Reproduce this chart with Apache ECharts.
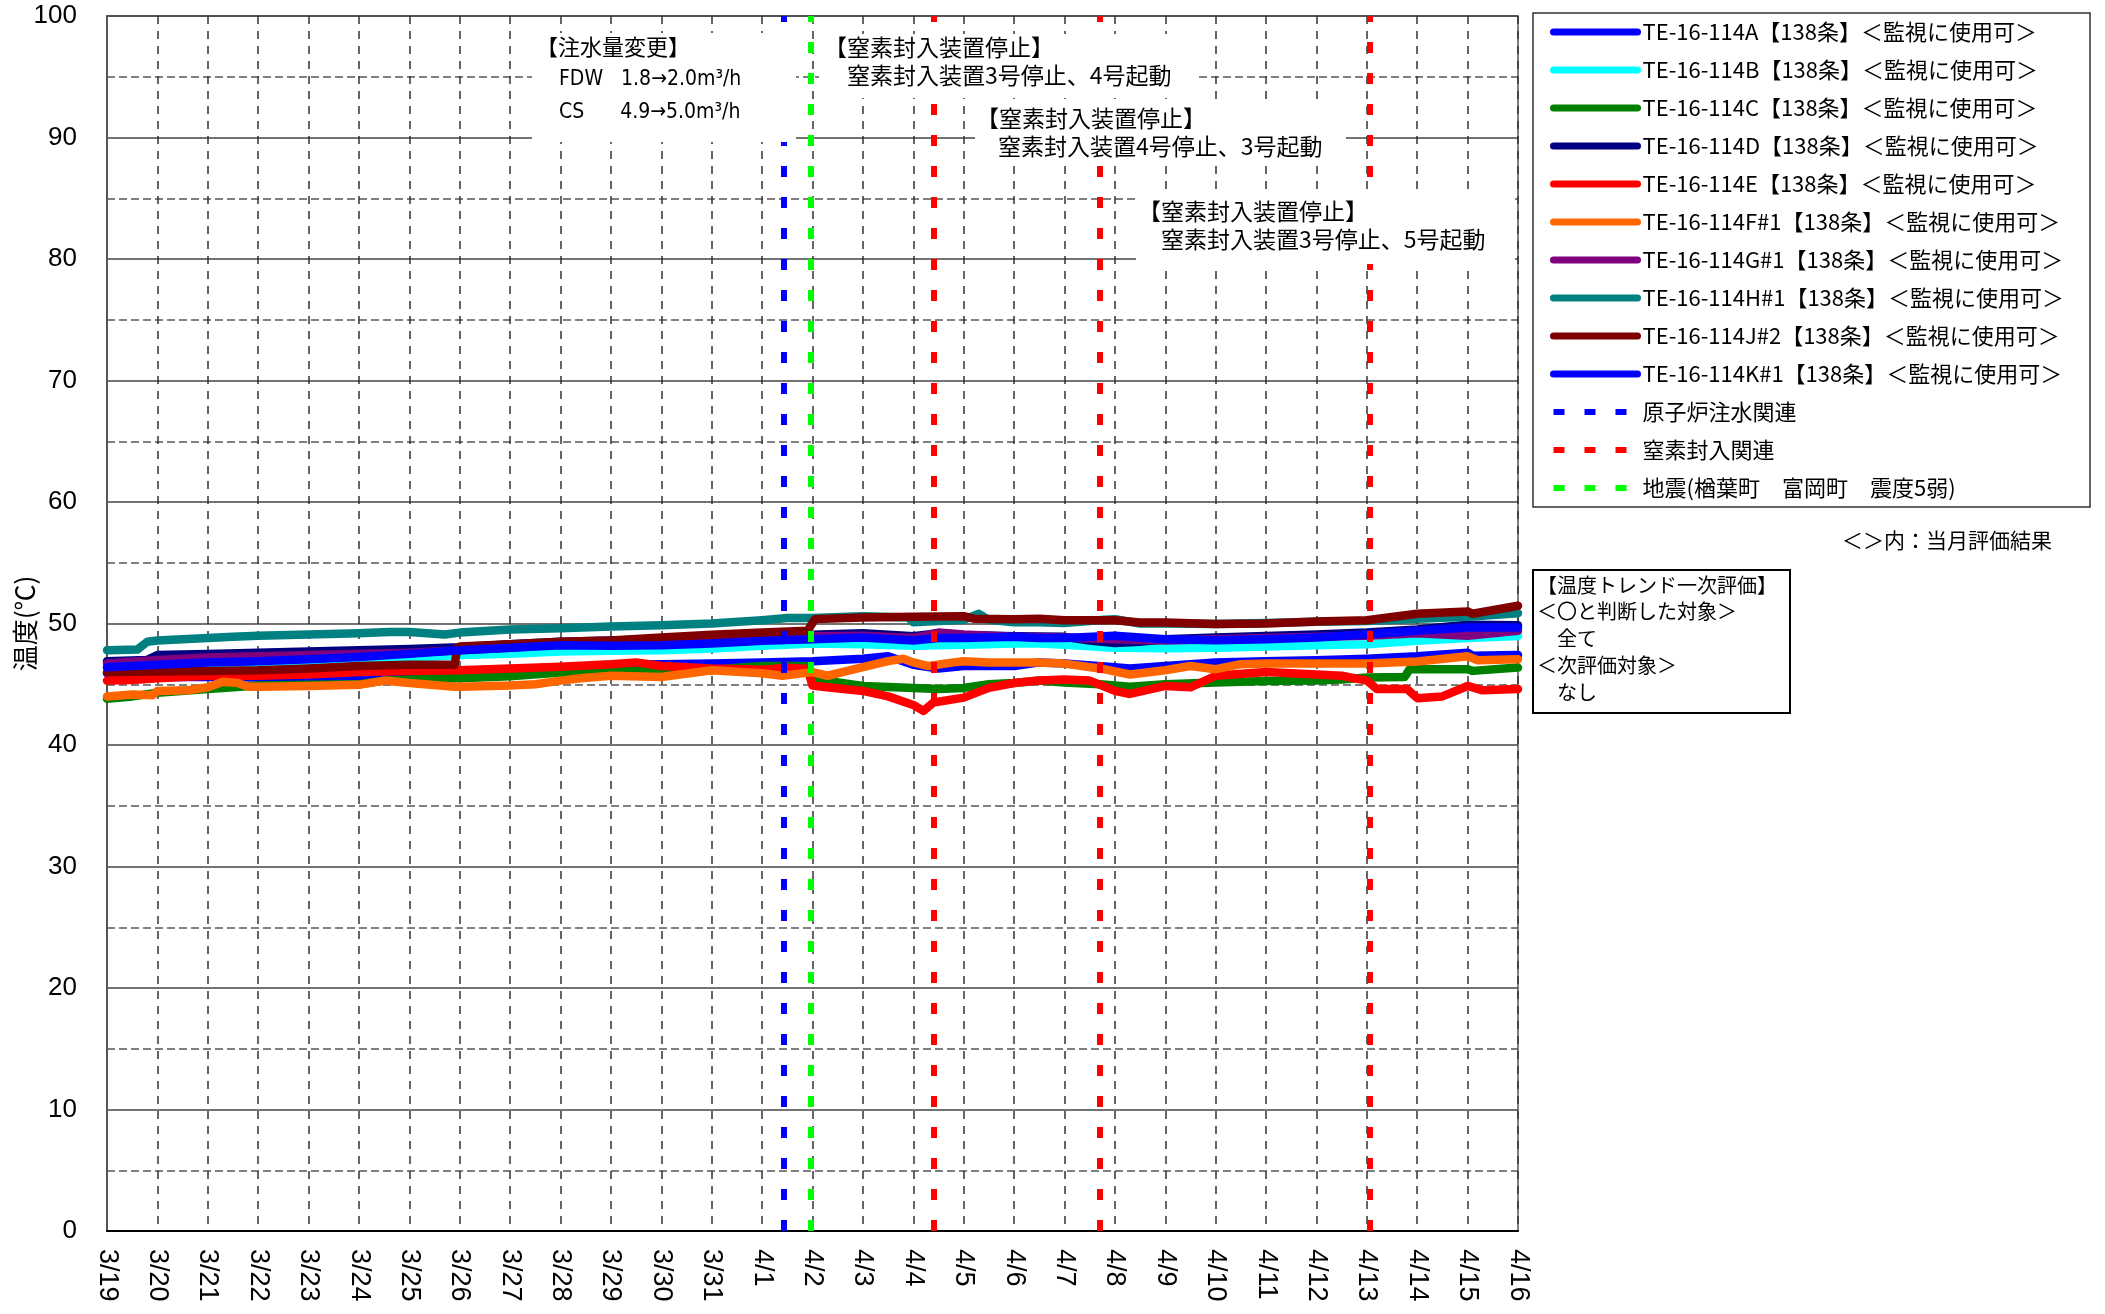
<!DOCTYPE html>
<html>
<head>
<meta charset="utf-8">
<script src="https://cdn.jsdelivr.net/npm/echarts@6/dist/echarts.min.js"></script>
<style>
html,body{margin:0;padding:0;background:#fff;}
#chart{width:2105px;height:1314px;}
</style>
</head>
<body>
<div id="chart"></div>
<script>
// x values: days elapsed since 3/19 00:00
const dayLabels = ['3/19','3/20','3/21','3/22','3/23','3/24','3/25','3/26','3/27','3/28','3/29','3/30','3/31','4/1','4/2','4/3','4/4','4/5','4/6','4/7','4/8','4/9','4/10','4/11','4/12','4/13','4/14','4/15','4/16'];

const seriesNames = [
  'TE-16-114A【138条】＜監視に使用可＞',
  'TE-16-114B【138条】＜監視に使用可＞',
  'TE-16-114C【138条】＜監視に使用可＞',
  'TE-16-114D【138条】＜監視に使用可＞',
  'TE-16-114E【138条】＜監視に使用可＞',
  'TE-16-114F#1【138条】＜監視に使用可＞',
  'TE-16-114G#1【138条】＜監視に使用可＞',
  'TE-16-114H#1【138条】＜監視に使用可＞',
  'TE-16-114J#2【138条】＜監視に使用可＞',
  'TE-16-114K#1【138条】＜監視に使用可＞'
];
const seriesColors = ['#0000FF','#00FFFF','#008000','#000080','#FF0000','#FF6600','#800080','#008080','#800000','#0000FF'];

const tempA = [[0,45.9],[1,45.6],[2,45.6],[3,45.55],[4,45.6],[5,45.65],[6,45.75],[6.5,45.8],[7,45.9],[8,46.0],[9,46.3],[10,46.6],[11,46.65],[12,46.7],[13,46.8],[14,46.9],[15,47.1],[15.5,47.3],[16,46.6],[16.5,46.3],[17,46.5],[18,46.5],[18.5,46.8],[19,46.7],[20,46.4],[20.3,46.3],[21,46.5],[22,46.8],[23,46.9],[24,46.97],[25,47.1],[26,47.3],[27,47.6],[27.1,47.35],[28,47.4]];
const tempB = [[0,46.3],[1,46.5],[2,46.7],[3,46.8],[4,46.9],[5,47.0],[6,47.15],[7,47.4],[8,47.5],[9,47.7],[10,47.75],[11,47.8],[12,47.94],[13,48.16],[14,48.35],[15,48.3],[16,48.16],[17,48.25],[18,48.35],[18.5,48.35],[19,48.25],[20,48.0],[21,47.97],[22,48.0],[23,48.1],[24,48.2],[25,48.3],[26,48.57],[27,48.8],[28,48.98]];
const tempC = [[0,43.8],[0.5,44.0],[1,44.3],[2,44.6],[2.5,44.75],[3,44.9],[4,44.95],[5,45.0],[5.5,45.3],[6,45.4],[7,45.5],[8,45.65],[9,45.96],[10,46.1],[11,46.05],[12,46.15],[12.5,46.35],[13,46.5],[13.9,46.5],[14.0,45.55],[14.3,45.27],[15,44.86],[16,44.7],[16.5,44.6],[17,44.7],[17.5,45.0],[18,45.1],[18.5,45.3],[19,45.14],[19.7,45.0],[20.3,44.8],[21,45.0],[22,45.14],[23,45.27],[24,45.3],[24.5,45.4],[25,45.55],[25.75,45.6],[25.85,46.24],[27,46.24],[27.1,46.1],[28,46.37]];
const tempD = [[0,46.9],[0.8,47.0],[1,47.4],[2,47.5],[3,47.6],[4,47.7],[5,47.8],[6,47.9],[7,48.05],[8,48.3],[9,48.5],[10,48.6],[11,48.7],[12,48.85],[13,48.95],[14,49.07],[15,49.2],[16,48.95],[16.5,49.2],[17,49.05],[18,48.95],[19,48.9],[19.5,48.6],[20,48.4],[20.5,48.5],[21,48.7],[22,48.85],[23,48.97],[24,49.1],[25,49.25],[26,49.5],[27,49.9],[28,49.85]];
const tempE = [[0,45.3],[0.5,45.35],[1,45.5],[2,45.7],[3,45.7],[4,45.8],[5,46.0],[6,46.1],[7,46.15],[8,46.3],[9,46.45],[10,46.65],[10.5,46.8],[11,46.5],[12,46.3],[13,46.2],[13.5,46.35],[13.9,46.25],[14.0,44.9],[14.2,44.8],[15,44.45],[15.5,44.0],[16,43.3],[16.2,42.8],[16.4,43.5],[17,43.9],[17.5,44.7],[18,45.1],[18.5,45.3],[19,45.4],[19.5,45.3],[20,44.45],[20.3,44.2],[21,44.86],[21.5,44.75],[22,45.7],[23,46.0],[24,45.8],[24.5,45.7],[25,45.3],[25.2,44.6],[25.8,44.6],[26,43.85],[26.5,44.0],[27,44.86],[27.3,44.5],[28,44.6]];
const tempF = [[0,44.0],[0.5,44.15],[0.9,44.1],[1,44.45],[1.6,44.5],[2,44.75],[2.3,45.2],[2.6,45.1],[2.8,44.8],[3,44.8],[4,44.85],[5,44.95],[5.5,45.3],[6,45.1],[6.9,44.8],[7,44.8],[8,44.9],[8.5,45.0],[9,45.3],[9.4,45.5],[10,45.7],[11,45.6],[12,46.15],[13,45.9],[13.4,45.7],[14,46.0],[14.3,45.7],[15,46.4],[15.5,46.9],[15.8,47.1],[16,46.8],[16.3,46.5],[16.8,46.8],[17,46.9],[17.5,46.8],[18,46.8],[18.5,46.8],[19,46.7],[19.7,46.3],[20.3,45.8],[21,46.15],[21.5,46.5],[22,46.24],[22.5,46.65],[23,46.7],[24,46.7],[25,46.7],[26,46.87],[27,47.3],[27.2,46.98],[28,47.06]];
const tempG = [[0,46.7],[1,47.0],[2,47.2],[3,47.3],[4,47.4],[5,47.5],[6,47.6],[7,47.8],[8,48.0],[9,48.3],[10,48.4],[11,48.5],[12,48.65],[13,48.8],[14,48.95],[15,49.0],[16,48.8],[16.5,49.25],[17,49.1],[18,48.9],[19,48.85],[20,48.7],[21,48.6],[22,48.7],[23,48.8],[24,48.9],[25,49.0],[26,49.2],[27,49.0],[28,49.4]];
const tempH = [[0,47.8],[0.6,47.85],[0.8,48.5],[1,48.6],[2,48.8],[2.5,48.9],[3,49.0],[4,49.1],[5,49.2],[5.6,49.3],[6,49.3],[6.7,49.1],[7,49.25],[8,49.5],[9,49.6],[10,49.75],[11,49.86],[12,50.0],[13,50.27],[13.5,50.45],[14,50.45],[15,50.6],[15.9,50.5],[16,50.1],[16.5,50.2],[17,50.3],[17.3,50.8],[17.5,50.3],[18,50.1],[18.5,50.1],[19,50.05],[19.8,50.3],[20,50.35],[20.5,50.0],[21,50.0],[22,49.95],[23,50.05],[24,50.15],[25,50.2],[26,50.4],[27,50.55],[28,50.85]];
const tempJ = [[0,46.0],[1,46.05],[2,46.1],[3,46.15],[4,46.3],[5,46.5],[6,46.6],[6.9,46.6],[6.95,48.0],[7,48.1],[8,48.3],[9,48.5],[10,48.6],[11,48.85],[12,49.07],[13,49.26],[13.9,49.4],[14.05,50.36],[15,50.5],[16,50.55],[17,50.6],[17.2,50.4],[18,50.36],[18.5,50.4],[19,50.27],[20,50.27],[20.5,50.08],[21,50.08],[22,49.95],[23,50.0],[24,50.16],[25,50.27],[26,50.8],[27,50.99],[27.1,50.8],[28,51.46]];
const tempK = [[0,46.4],[1,46.6],[2,46.8],[3,46.9],[4,47.05],[5,47.25],[6,47.5],[7,47.8],[8,48.0],[9,48.2],[10,48.16],[11,48.2],[12,48.35],[13,48.57],[14,48.7],[15,48.85],[16,48.6],[16.5,48.8],[17,48.8],[18,48.9],[18.5,48.8],[19,48.8],[20,49.0],[20.5,48.85],[21,48.7],[22,48.63],[23,48.7],[24,48.85],[25,49.1],[26,49.4],[27,49.67],[28,49.67]];
const seriesData = [tempA,tempB,tempC,tempD,tempE,tempF,tempG,tempH,tempJ,tempK];

// event markers (days since 3/19 00:00)
const eventNames = ['原子炉注水関連','窒素封入関連','地震(楢葉町　富岡町　震度5弱)'];
const eventColors = ['#0000FF','#FF0000','#00FF00'];
const waterEvents = [13.43];
const nitrogenEvents = [16.41, 19.70, 25.06];
const quakeEvents = [13.96];
const eventDays = [waterEvents, nitrogenEvents, quakeEvents];

const JP = '"Noto Sans CJK JP", sans-serif';
const LAT = '"Liberation Sans", Arial, sans-serif';

const chart = echarts.init(document.getElementById('chart'), null, {renderer:'canvas'});

const series = [];
seriesNames.forEach((n,i)=>{
  series.push({
    name:n, type:'line', data:seriesData[i], symbol:'none', showSymbol:false,
    lineStyle:{color:seriesColors[i], width:8.5, cap:'round', join:'round'},
    itemStyle:{color:seriesColors[i]},
    animation:false, silent:true, z:2
  });
});
eventNames.forEach((n,i)=>{
  series.push({
    name:n, type:'line', data:[], symbol:'none',
    lineStyle:{color:eventColors[i], width:6, type:[11,20]},
    itemStyle:{color:eventColors[i]},
    animation:false, silent:true,
    markLine:{
      symbol:'none', silent:true, animation:false,
      label:{show:false},
      lineStyle:{color:eventColors[i], width:6, type:[11,20]},
      data: eventDays[i].map(d=>({xAxis:d}))
    }
  });
});

function txt(x,y,t,size,extra){
  return Object.assign({type:'text', x:x, y:y, z:100, silent:true,
    style:{text:t, font:size+'px '+JP, fill:'#000', textVerticalAlign:'middle', textAlign:'left'}}, extra||{});
}
function box(x,y,w,h){
  return {type:'rect', z:99, silent:true, shape:{x:x,y:y,width:w,height:h}, style:{fill:'#fff', stroke:null}};
}

const graphics = [
  // annotation 1
  box(532,33,264,109),
  txt(536,47,'【注水量変更】',22),
  {type:'text', x:559, y:80, z:100, style:{text:'FDW   1.8→2.0m³/h', font:'21px "DejaVu Sans Condensed", '+LAT, fill:'#000', textVerticalAlign:'middle'}},
  {type:'text', x:559, y:113, z:100, style:{text:'CS      4.9→5.0m³/h', font:'21px "DejaVu Sans Condensed", '+LAT, fill:'#000', textVerticalAlign:'middle'}},
  // annotation 2
  box(819,34,377,64),
  txt(824,47,'【窒素封入装置停止】',23),
  txt(847,75,'窒素封入装置3号停止、4号起動',23),
  // annotation 3
  box(975,103,371,62),
  txt(976,118,'【窒素封入装置停止】',23),
  txt(998,146,'窒素封入装置4号停止、3号起動',23),
  // annotation 4
  box(1136,192,379,72),
  txt(1138,211,'【窒素封入装置停止】',23),
  txt(1161,239,'窒素封入装置3号停止、5号起動',23),
  // legend frame
  {type:'rect', z:0, silent:true, shape:{x:1533,y:13,width:557,height:494}, style:{fill:'#fff', stroke:'#333', lineWidth:1.5}},
  txt(1842,540,'＜＞内：当月評価結果',21),
  // evaluation box
  {type:'rect', z:0, silent:true, shape:{x:1533,y:570,width:257,height:143}, style:{fill:'#fff', stroke:'#000', lineWidth:2}},
  txt(1537,585,'【温度トレンド一次評価】',20),
  txt(1537,611,'＜〇と判断した対象＞',20),
  txt(1537,638,'　全て',20),
  txt(1537,665,'＜次評価対象＞',20),
  txt(1537,692,'　なし',20)
];

const legendData = seriesNames.map(n=>({name:n}))
  .concat(eventNames.map(n=>({name:n, lineStyle:{width:6, cap:'butt'}})));

chart.setOption({
  animation:false,
  backgroundColor:'#fff',
  grid:{left:107, right:587, top:16, bottom:83, containLabel:false, outerBoundsMode:'none',
    show:true, borderColor:'#555', borderWidth:1.5, backgroundColor:'transparent'},
  xAxis:{
    type:'value', min:0, max:28, interval:1,
    axisLine:{show:true, onZero:false, lineStyle:{color:'#000', width:2}},
    axisTick:{show:false},
    axisLabel:{rotate:-90, margin:18, fontSize:27, fontFamily:LAT, color:'#000',
      formatter:(v)=>dayLabels[Math.round(v)] || ''},
    splitLine:{show:true, lineStyle:{color:'#333', width:1.5, type:[8,7]}}
  },
  yAxis:{
    type:'value', min:0, max:100, interval:10,
    name:'温度(℃)', nameLocation:'middle', nameRotate:90, nameGap:69, nameMoveOverlap:false,
    nameTextStyle:{fontSize:26, fontFamily:JP, color:'#000'},
    axisLine:{show:true, lineStyle:{color:'#555', width:2}},
    axisTick:{show:false},
    axisLabel:{margin:30, fontSize:26, fontFamily:LAT, color:'#000'},
    splitLine:{show:true, lineStyle:{color:'#444', width:1.5}},
    minorTick:{show:false, splitNumber:2},
    minorSplitLine:{show:true, lineStyle:{color:'#555', width:1.5, type:[8,4]}}
  },
  legend:{
    orient:'vertical', left:1545, top:15,
    itemWidth:84, itemHeight:14, itemGap:14,
    selectedMode:false,
    itemStyle:{color:'transparent', borderColor:'transparent', borderWidth:0, opacity:0},
    lineStyle:{width:7, cap:'round'},
    textStyle:{fontSize:22, fontFamily:JP, color:'#000', lineHeight:24},
    data:legendData
  },
  graphic:graphics,
  series:series
});
</script>
</body>
</html>
